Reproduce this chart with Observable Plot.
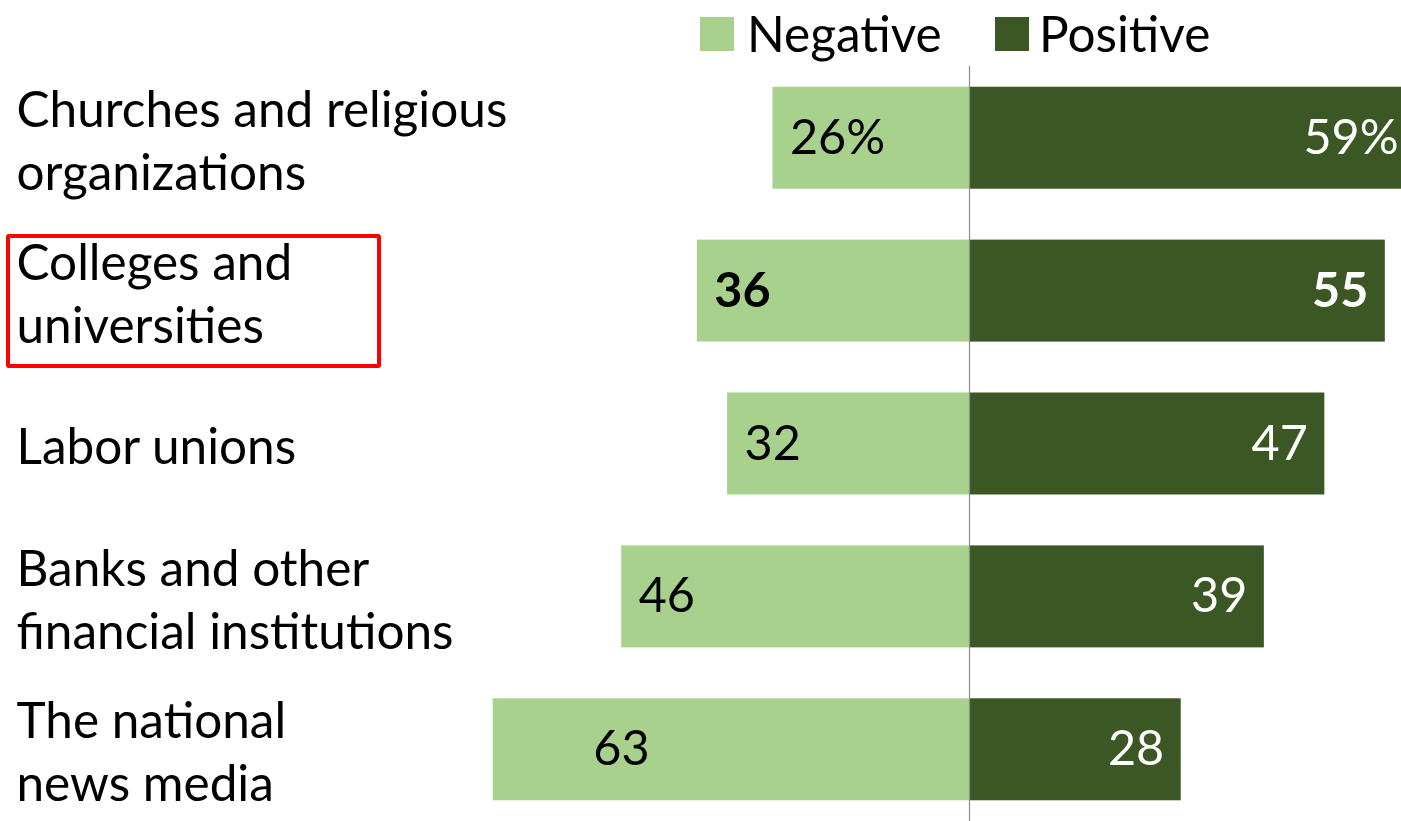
<!DOCTYPE html>
<html>
<head>
<meta charset="utf-8">
<script src="https://cdn.jsdelivr.net/npm/d3@7"></script>
<script src="https://cdn.jsdelivr.net/npm/@observablehq/plot@0.6"></script>
<style>
  html, body { margin: 0; padding: 0; background: #fff; overflow: hidden; }
  #wrap { position: relative; width: 1401px; height: 821px; font-family: "Lato", sans-serif; }
  #legend { position: relative; height: 66px; }
  .sw { position: absolute; top: 17px; width: 34px; height: 34px; }
  .lt { position: absolute; top: 3px; font-size: 49.5px; line-height: 60px; color: #000; }
  #box { position: absolute; left: 6px; top: 234px; width: 367px; height: 126px; border: 4px solid #ff0000; border-radius: 3px; }
  svg { overflow: hidden; }
</style>
</head>
<body>
<div id="wrap">
  <div id="legend"></div>
  <div id="chart"></div>
  <div id="box"></div>
</div>
<script>
const categories = [
  "Churches and religious\norganizations",
  "Colleges and\nuniversities",
  "Labor unions",
  "Banks and other\nfinancial institutions",
  "The national\nnews media"
];
const negative = [26, 36, 32, 46, 63];
const positive = [59, 55, 47, 39, 28];
const negativeLabels = ["26%", "36", "32", "46", "63"];
const positiveLabels = ["59%", "55", "47", "39", "28"];
const highlighted = "Colleges and\nuniversities";
const seriesNames = ["Negative", "Positive"];
const seriesColors = ["#a9d18e", "#3a5724"];

const rows = categories.map((c, i) => ({
  cat: c, neg: negative[i], pos: positive[i],
  negLabel: negativeLabels[i], posLabel: positiveLabels[i]
}));
const normal = rows.filter(d => d.cat !== highlighted);
const bold = rows.filter(d => d.cat === highlighted);

// legend (HTML, above the svg)
const legend = document.getElementById("legend");
const legendPos = [[700, 747], [995, 1039]];
seriesNames.forEach((n, i) => {
  const s = document.createElement("div");
  s.className = "sw"; s.style.left = legendPos[i][0] + "px"; s.style.background = seriesColors[i];
  const t = document.createElement("div");
  t.className = "lt"; t.style.left = legendPos[i][1] + "px"; t.textContent = n;
  legend.append(s, t);
});

const CAT_FS = 49.5;
const VAL_FS = 48.5;
const valFont = {fontSize: VAL_FS, fontFamily: "Lato"};
// the 63 label sits nearer the centre line in the original
const negLabelX = d => -Math.min(d.neg, 52);

const chart = Plot.plot({
  width: 1401,
  height: 755,
  marginLeft: 0, marginRight: 0, marginTop: 0, marginBottom: 0,
  style: {fontFamily: "Lato", background: "transparent"},
  x: {domain: [-128.17, 57.14], axis: null},
  y: {domain: categories, axis: null, paddingInner: 0.333, paddingOuter: 0.1355, round: false},
  marks: [
    Plot.barX(rows, {x1: 0, x2: d => -d.neg, y: "cat", fill: seriesColors[0]}),
    Plot.barX(rows, {x1: 0, x2: "pos", y: "cat", fill: seriesColors[1], clip: true}),
    Plot.ruleX([0], {stroke: "#8c8c8c", strokeWidth: 1.2}),
    Plot.text(rows, {y: "cat", text: "cat", frameAnchor: "left", dx: 16, textAnchor: "start",
      lineAnchor: "middle", lineHeight: 63 / CAT_FS, fill: "#000", fontSize: CAT_FS, fontFamily: "Lato"}),
    Plot.text(normal, {x: negLabelX, y: "cat", text: "negLabel", textAnchor: "start", dx: 17,
      fill: "#000", ...valFont}),
    Plot.text(bold, {x: negLabelX, y: "cat", text: "negLabel", textAnchor: "start", dx: 17,
      fill: "#000", fontWeight: "bold", ...valFont}),
    Plot.text(normal, {x: "pos", y: "cat", text: "posLabel", textAnchor: "end", dx: -17,
      fill: "#fff", ...valFont}),
    Plot.text(bold, {x: "pos", y: "cat", text: "posLabel", textAnchor: "end", dx: -17,
      fill: "#fff", fontWeight: "bold", ...valFont})
  ]
});
document.getElementById("chart").append(chart);
</script>
</body>
</html>
